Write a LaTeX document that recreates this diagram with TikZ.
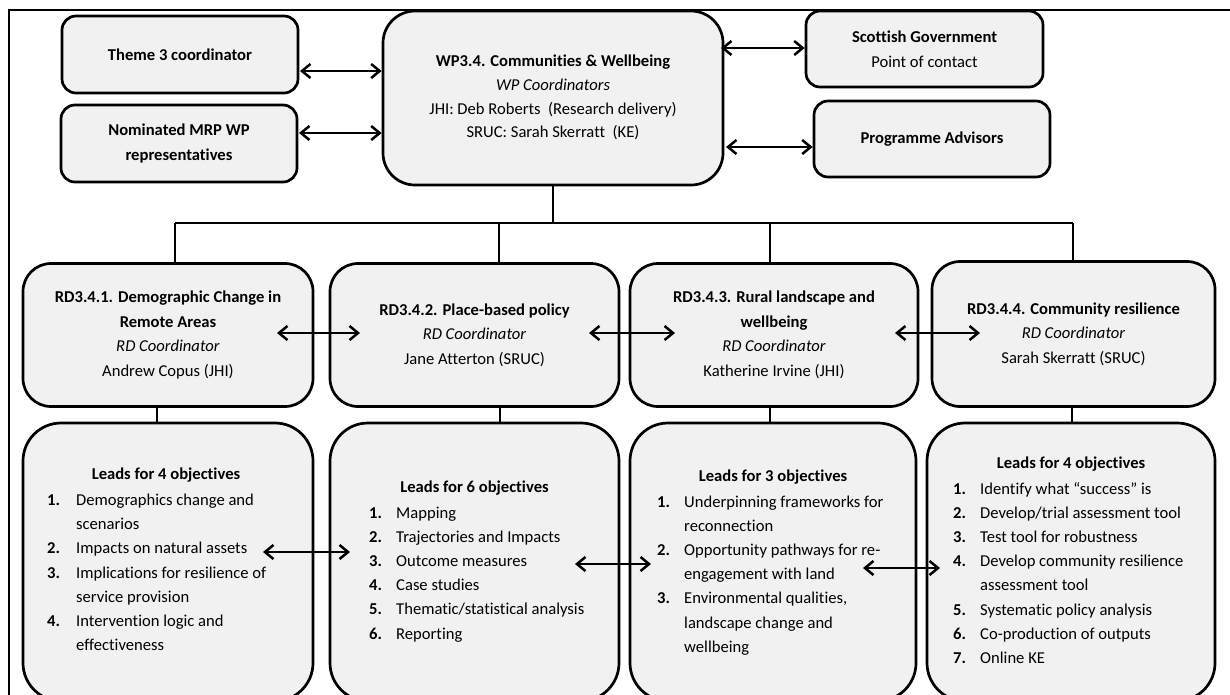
\documentclass[tikz,border=0pt]{standalone}
\usepackage{fontspec}
\setmainfont{Carlito}[Ligatures=NoCommon]
\usetikzlibrary{arrows.meta,calc}
\definecolor{boxfill}{RGB}{241,241,241}
\newcommand\itemno[1]{\textbf{#1.}}
\begin{document}
\begin{tikzpicture}[x=1pt,y=-1pt,
  box/.style={draw=black,line width=2.7pt,fill=boxfill,rounded corners=#1,
    inner sep=0pt,align=center,font=\fontsize{16.6}{24.5}\selectfont},
  txt/.style={inner sep=0pt,font=\fontsize{16.6}{24.2}\selectfont},
  link/.style={line width=2.6pt},
  dbl/.style={line width=2.5pt,
    {Straight Barb[length=8.5pt,width=14pt]}-{Straight Barb[length=8.5pt,width=14pt]}},
  frame/.style={line width=2pt}
]
\fill[white] (0,0) rectangle (1230,694);
\clip (0,0) rectangle (1230,694);

% outer frame (top and left edges)
\draw[frame] (9,700) -- (9,10) -- (1240,10);

% ---------- top row ----------
\node[box=14pt,minimum width=236pt,minimum height=77pt] (t3) at (180,54.5)
  {\textbf{Theme 3 coordinator}};
\node[box=14pt,minimum width=236pt,minimum height=77pt] (nom) at (179,143.5)
  {\textbf{Nominated MRP WP}\\\textbf{representatives}};
\node[box=32pt,minimum width=340pt,minimum height=174pt] (main) at (553,98) {};
\node[txt,align=center,font=\fontsize{16.6}{23.7}\selectfont] (maintxt) at (553,97.5)
  {\textbf{WP3.4. Communities \& Wellbeing}\\
   \textit{WP Coordinators}\\
   JHI: Deb Roberts\ \ (Research delivery)\\
   SRUC: Sarah Skerratt\ \ (KE)};
\node[box=14pt,minimum width=237pt,minimum height=76pt] (sg) at (924.5,49)
  {\textbf{Scottish Government}\\Point of contact};
\node[box=14pt,minimum width=236pt,minimum height=76pt] (pa) at (932,139)
  {\textbf{Programme Advisors}};

% links between the work package and its partners
\coordinate (t3A) at (300,71);
\coordinate (nomA) at (299,133);
\coordinate (sgA) at (721,48);
\coordinate (paA) at (726,147);
\draw[dbl] (t3A) -- (main.west |- t3A);
\draw[dbl] (nomA) -- (main.west |- nomA);
\draw[dbl] (sgA) -- (sg.west |- sgA);
\draw[dbl] (paA) -- (pa.west |- paA);

% ---------- middle row ----------
\node[box=28pt,minimum width=290pt,minimum height=143pt] (rd1) at (168,335)
  {\textbf{RD3.4.1. Demographic Change in}\\\textbf{Remote Areas}\\
   \textit{RD Coordinator}\\Andrew Copus (JHI)};
\node[box=28pt,minimum width=289pt,minimum height=143pt] (rd2) at (474.5,335)
  {\textbf{RD3.4.2. Place-based policy}\\\textit{RD Coordinator}\\Jane Atterton (SRUC)};
\node[box=28pt,minimum width=288pt,minimum height=143pt] (rd3) at (774,335)
  {\textbf{RD3.4.3. Rural landscape and}\\\textbf{wellbeing}\\
   \textit{RD Coordinator}\\Katherine Irvine (JHI)};
\node[box=28pt,minimum width=283pt,minimum height=145pt] (rd4) at (1073.5,334)
  {\textbf{RD3.4.4. Community resilience}\\\textit{RD Coordinator}\\Sarah Skerratt (SRUC)};

% tree from the work package to the research deliverables
\coordinate (bus) at (553,223);
\coordinate (d1) at (175,223);
\coordinate (d2) at (499,223);
\coordinate (d3) at (770,223);
\coordinate (d4) at (1073,223);
\draw[link] (main.south -| bus) -- (bus);
\draw[link] (d1) -- (d4);
\foreach \d/\r in {d1/rd1,d2/rd2,d3/rd3,d4/rd4}
  \draw[link] (\d) -- (\d |- \r.north);

\coordinate (m12a) at (277,333);
\coordinate (m12b) at (360,333);
\coordinate (m23a) at (589,333);
\coordinate (m23b) at (675,333);
\coordinate (m34a) at (895,333);
\coordinate (m34b) at (980,333);
\draw[dbl] (m12a) -- (m12b);
\draw[dbl] (m23a) -- (m23b);
\draw[dbl] (m34a) -- (m34b);

% ---------- bottom row ----------
\node[box=38pt,minimum width=290pt,minimum height=278pt] (b1) at (168,562) {};
\node[box=38pt,minimum width=289pt,minimum height=278pt] (b2) at (474.5,562) {};
\node[box=38pt,minimum width=286pt,minimum height=278pt] (b3) at (773,562) {};
\node[box=38pt,minimum width=288pt,minimum height=278pt] (b4) at (1071,562) {};

\coordinate (u1) at (157,0);
\coordinate (u2) at (500,0);
\coordinate (u3) at (770,0);
\coordinate (u4) at (1072,0);
\foreach \u/\r/\b in {u1/rd1/b1,u2/rd2/b2,u3/rd3/b3,u4/rd4/b4}
  \draw[link] (\u |- \r.south) -- (\u |- \b.north);

% objective lists
\node[txt,anchor=base] (h1) at (166,479.5) {\textbf{Leads for 4 objectives}};
\node[txt,anchor=base west] (l1) at (47,505.5) {\begin{tabular}[t]{@{}p{29pt}@{}l@{}}
  \itemno{1} & Demographics change and\\ & scenarios\\
  \itemno{2} & Impacts on natural assets\\
  \itemno{3} & Implications for resilience of\\ & service provision\\
  \itemno{4} & Intervention logic and\\ & effectiveness
  \end{tabular}};

\node[txt,anchor=base] (h2) at (474.5,492) {\textbf{Leads for 6 objectives}};
\node[txt,anchor=base west] (l2) at (369,518) {\begin{tabular}[t]{@{}p{27pt}@{}l@{}}
  \itemno{1} & Mapping\\
  \itemno{2} & Trajectories and Impacts\\
  \itemno{3} & Outcome measures\\
  \itemno{4} & Case studies\\
  \itemno{5} & Thematic/statistical analysis\\
  \itemno{6} & Reporting
  \end{tabular}};

\node[txt,anchor=base] (h3) at (773,481) {\textbf{Leads for 3 objectives}};
\node[txt,anchor=base west] (l3) at (657,507) {\begin{tabular}[t]{@{}p{27pt}@{}l@{}}
  \itemno{1} & Underpinning frameworks for\\ & reconnection\\
  \itemno{2} & Opportunity pathways for re-\\ & engagement with land\\
  \itemno{3} & Environmental qualities,\\ & landscape change and\\ & wellbeing
  \end{tabular}};

\node[txt,anchor=base] (h4) at (1071,468) {\textbf{Leads for 4 objectives}};
\node[txt,anchor=base west] (l4) at (953,494) {\begin{tabular}[t]{@{}p{27pt}@{}l@{}}
  \itemno{1} & Identify what “success” is\\
  \itemno{2} & Develop/trial assessment tool\\
  \itemno{3} & Test tool for robustness\\
  \itemno{4} & Develop community resilience\\ & assessment tool\\
  \itemno{5} & Systematic policy analysis\\
  \itemno{6} & Co-production of outputs\\
  \itemno{7} & Online KE
  \end{tabular}};

\coordinate (n12a) at (263,552);
\coordinate (n12b) at (350,552);
\coordinate (n23a) at (575,564);
\coordinate (n23b) at (651,564);
\coordinate (n34a) at (863,568);
\coordinate (n34b) at (940,568);
\draw[dbl] (n12a) -- (n12b);
\draw[dbl] (n23a) -- (n23b);
\draw[dbl] (n34a) -- (n34b);
\end{tikzpicture}
\end{document}
